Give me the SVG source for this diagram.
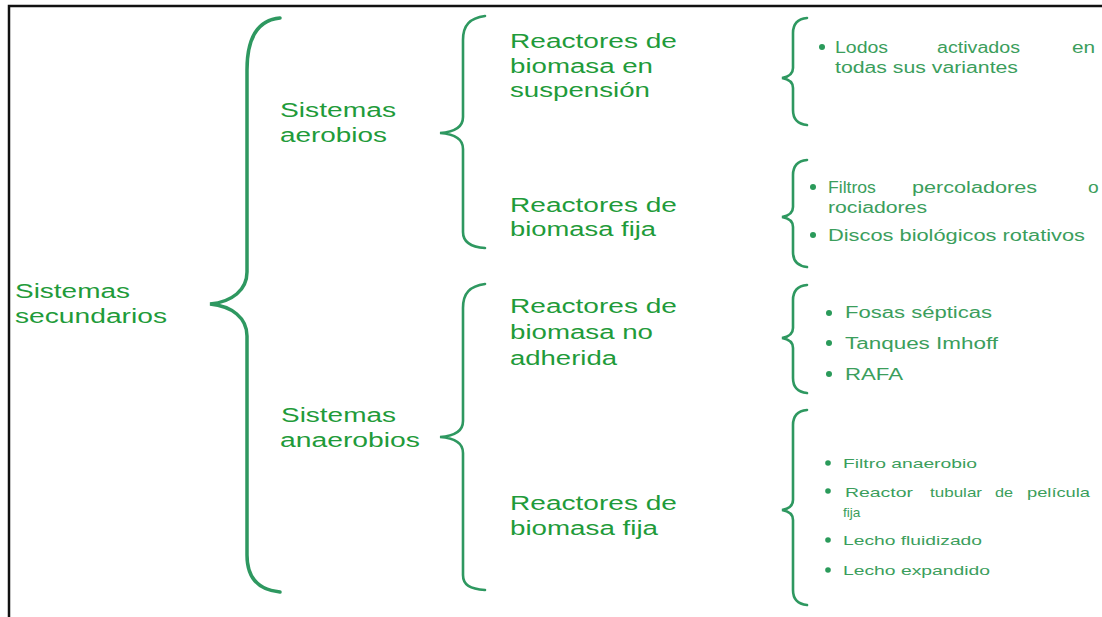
<svg xmlns="http://www.w3.org/2000/svg" width="1102" height="617" viewBox="0 0 1102 617">
<style>
.frame{fill:none;stroke:#111;stroke-width:2.5}
.br{fill:none;stroke:#2e9860;stroke-linecap:round}
.b1{stroke-width:3.5}
.b2{stroke-width:2.6}
.b3{stroke-width:2.6}
.lab{font-family:"Liberation Sans",Arial,sans-serif;font-size:20px;fill:#1f9b3a}
.it{font-family:"Liberation Sans",Arial,sans-serif;font-size:16px;fill:#3b9e5c}
.sm{font-family:"Liberation Sans",Arial,sans-serif;font-size:13px;fill:#3b9e5c}
.dot{fill:#2a9a5a}
</style>
<rect width="1102" height="617" fill="#fff"/>
<path class="frame" d="M9 617 L9 6 L1102 6"/>
<g id="connectors">
<path class="br b1" d="M280 18 C258 20 247 38 247 70 L247 272 C247 290 232 302 210 304 C232 306 247 318 247 336 L247 555 C247 578 258 590 280 592"/>
<path class="br b2" d="M485 16 C470 18 463 25 463 40 L463 117 C463 127 455 132 440 133 C455 134 463 139 463 149 L463 232 C463 242 470 247 485 248"/>
<path class="br b2" d="M485 284 C470 286 463 293 463 308 L463 421 C463 431 455 436 440 437 C455 438 463 443 463 453 L463 575 C463 585 470 589 485 590"/>
<path class="br b3" d="M807 18 C797 19 793 24 793 33 L793 68 C793 74 788 77 782 78 C788 79 793 82 793 88 L793 110 C793 119 797 124 807 125"/>
<path class="br b3" d="M807 160 C797 161 793 166 793 175 L793 207 C793 213 788 216 782 217 C788 218 793 221 793 227 L793 252 C793 261 797 266 807 267"/>
<path class="br b3" d="M807 285 C797 286 793 291 793 300 L793 328 C793 334 788 337 782 338 C788 339 793 342 793 348 L793 378 C793 387 797 392 807 393"/>
<path class="br b3" d="M807 410 C797 411 793 416 793 425 L793 500 C793 506 788 509 782 510 C788 511 793 514 793 520 L793 590 C793 599 797 604 807 605"/>
</g>
<g id="n-secundarios">
<text class="lab" x="15" y="298" textLength="115" lengthAdjust="spacingAndGlyphs">Sistemas</text>
<text class="lab" x="15" y="323" textLength="152" lengthAdjust="spacingAndGlyphs">secundarios</text>
</g>
<g id="n-aerobios">
<text class="lab" x="280" y="117" textLength="116" lengthAdjust="spacingAndGlyphs">Sistemas</text>
<text class="lab" x="280" y="142" textLength="107" lengthAdjust="spacingAndGlyphs">aerobios</text>
</g>
<g id="n-anaerobios">
<text class="lab" x="281" y="422" textLength="115" lengthAdjust="spacingAndGlyphs">Sistemas</text>
<text class="lab" x="280" y="447" textLength="140" lengthAdjust="spacingAndGlyphs">anaerobios</text>
</g>
<g id="n-suspension">
<text class="lab" x="510" y="48" textLength="167" lengthAdjust="spacingAndGlyphs">Reactores de</text>
<text class="lab" x="510" y="73" textLength="143" lengthAdjust="spacingAndGlyphs">biomasa en</text>
<text class="lab" x="510" y="97" textLength="140" lengthAdjust="spacingAndGlyphs">suspensión</text>
</g>
<g id="n-fija-aer">
<text class="lab" x="510" y="212" textLength="167" lengthAdjust="spacingAndGlyphs">Reactores de</text>
<text class="lab" x="510" y="236" textLength="146" lengthAdjust="spacingAndGlyphs">biomasa fija</text>
</g>
<g id="n-noadherida">
<text class="lab" x="510" y="313" textLength="167" lengthAdjust="spacingAndGlyphs">Reactores de</text>
<text class="lab" x="510" y="339" textLength="143" lengthAdjust="spacingAndGlyphs">biomasa no</text>
<text class="lab" x="510" y="365" textLength="107" lengthAdjust="spacingAndGlyphs">adherida</text>
</g>
<g id="n-fija-ana">
<text class="lab" x="510" y="510" textLength="167" lengthAdjust="spacingAndGlyphs">Reactores de</text>
<text class="lab" x="510" y="535" textLength="148" lengthAdjust="spacingAndGlyphs">biomasa fija</text>
</g>
<g id="n-list1">
<circle class="dot" cx="822" cy="47" r="3"/>
<text class="it" x="835" y="53" textLength="53" lengthAdjust="spacingAndGlyphs">Lodos</text>
<text class="it" x="937" y="53" textLength="83" lengthAdjust="spacingAndGlyphs">activados</text>
<text class="it" transform="translate(1072 53) scale(1.3 1)">en</text>
<text class="it" x="835" y="73" textLength="183" lengthAdjust="spacingAndGlyphs">todas sus variantes</text>
</g>
<g id="n-list2">
<circle class="dot" cx="813" cy="187" r="3"/>
<text class="it" transform="translate(828 193) scale(1.1 1)">Filtros</text>
<text class="it" x="912" y="193" textLength="125" lengthAdjust="spacingAndGlyphs">percoladores</text>
<text class="it" transform="translate(1088 193) scale(1.2 1)">o</text>
<text class="it" x="828" y="213" textLength="99" lengthAdjust="spacingAndGlyphs">rociadores</text>
<circle class="dot" cx="813" cy="235" r="3"/>
<text class="it" x="828" y="241" textLength="257" lengthAdjust="spacingAndGlyphs">Discos biológicos rotativos</text>
</g>
<g id="n-list3">
<circle class="dot" cx="829" cy="313" r="3"/>
<text class="it" x="845" y="318" textLength="147" lengthAdjust="spacingAndGlyphs">Fosas sépticas</text>
<circle class="dot" cx="829" cy="343" r="3"/>
<text class="it" x="845" y="349" textLength="153" lengthAdjust="spacingAndGlyphs">Tanques Imhoff</text>
<circle class="dot" cx="829" cy="374" r="3"/>
<text class="it" x="845" y="380" textLength="58" lengthAdjust="spacingAndGlyphs">RAFA</text>
</g>
<g id="n-list4">
<circle class="dot" cx="828" cy="463" r="2.8"/>
<text class="sm" x="843" y="468" textLength="134" lengthAdjust="spacingAndGlyphs">Filtro anaerobio</text>
<circle class="dot" cx="828" cy="491" r="2.8"/>
<text class="sm" x="845" y="497" textLength="68" lengthAdjust="spacingAndGlyphs">Reactor</text>
<text class="sm" x="930" y="497" textLength="52" lengthAdjust="spacingAndGlyphs">tubular</text>
<text class="sm" transform="translate(995 497) scale(1.25 1)">de</text>
<text class="sm" x="1027" y="497" textLength="63" lengthAdjust="spacingAndGlyphs">película</text>
<text class="sm" transform="translate(843 517) scale(1.05 1)">fija</text>
<circle class="dot" cx="828" cy="540" r="2.8"/>
<text class="sm" x="843" y="545" textLength="139" lengthAdjust="spacingAndGlyphs">Lecho fluidizado</text>
<circle class="dot" cx="828" cy="570" r="2.8"/>
<text class="sm" x="843" y="575" textLength="147" lengthAdjust="spacingAndGlyphs">Lecho expandido</text>
</g>
</svg>
